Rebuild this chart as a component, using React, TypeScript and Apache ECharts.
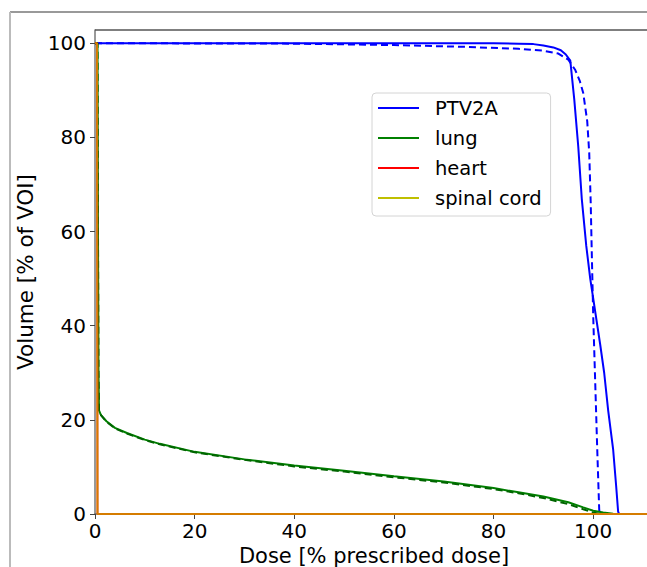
import React, { useEffect, useRef } from "react";
import * as echarts from "echarts";

// ---- data ----
const ptvSolidDose = [0, 80, 85, 88, 90, 92, 93.5, 94.5, 95.4, 96.2, 97, 97.7, 98.6, 99.4, 100.4, 101.4, 102.2, 103, 104, 104.6, 105, 105.2, 112];
const ptvSolidVol = [100, 100, 99.9, 99.8, 99.5, 99.1, 98.5, 97.6, 96.3, 88, 78, 67, 57, 50, 43, 36, 30, 22, 13.7, 6, 0.5, 0, 0];

const ptvDashDose = [0, 40, 60, 75, 85, 90, 93, 95, 96.4, 97.3, 98, 98.8, 99.2, 99.5, 99.7, 100, 100.4, 100.8, 101.2, 101.3, 112];
const ptvDashVol = [100, 99.9, 99.6, 99.2, 98.8, 98.4, 97.8, 96.5, 94.3, 92, 89.4, 83.4, 76.7, 66, 56, 42, 28, 14, 1, 0, 0];

const lungSolidDose = [0, 0.5, 0.6, 0.7, 0.8, 1.2, 2.3, 4, 6.4, 10, 13, 20, 30, 40, 50, 60, 70, 80, 85, 90, 95, 98, 100, 102, 104, 105, 112];
const lungSolidVol = [100, 100, 60, 30, 22, 21, 19.7, 18.3, 17.2, 15.8, 14.9, 13.2, 11.6, 10.3, 9.2, 8.0, 6.9, 5.5, 4.6, 3.7, 2.5, 1.4, 0.7, 0.3, 0.05, 0, 0];

const lungDashDose = [0, 0.5, 0.6, 0.7, 0.8, 1.2, 2.3, 4, 6.4, 10, 13, 20, 30, 40, 50, 60, 70, 80, 85, 90, 95, 98, 100, 101.5, 112];
const lungDashVol = [100, 100, 60, 30, 22, 21, 19.6, 18.2, 17.1, 15.7, 14.8, 13.1, 11.5, 10.1, 9.0, 7.8, 6.7, 5.3, 4.4, 3.4, 2.1, 1.0, 0.3, 0, 0];

const heartDose = [0, 0.4, 0.5, 112];
const heartVol = [100, 100, 0, 0];

const cordDose = [0, 0.4, 0.5, 112];
const cordVol = [100, 100, 0, 0];

const legendNames = ["PTV2A", "lung", "heart", "spinal cord"];
const xTicks = [0, 20, 40, 60, 80, 100];
const yTicks = [0, 20, 40, 60, 80, 100];

const zip = (xs: number[], ys: number[]) => xs.map((x, i) => [x, ys[i]]);

const FONT = "DejaVu Sans";

export default function App() {
  const ref = useRef<HTMLDivElement>(null);
  useEffect(() => {
    if (!ref.current) return;
    const chart = echarts.init(ref.current, null, { renderer: "svg" });
    const lineSeries = (name: string, color: string, data: number[][], dashed: boolean, opacity = 1, z = 2) => ({
      type: "line",
      name,
      color,
      data,
      showSymbol: false,
      symbol: "none",
      z,
      lineStyle: { color, width: 2, type: dashed ? [7, 4] : "solid", opacity },
      emphasis: { disabled: true },
    });
    chart.setOption({
      animation: false,
      backgroundColor: "#ffffff",
      textStyle: { fontFamily: FONT },
      grid: {
        left: 95,
        top: 30,
        width: 558,
        height: 484,
        containLabel: false,
        outerBoundsMode: "none",
        show: false,
      },
      legend: {
        orient: "vertical",
        left: 372,
        top: 93,
        itemWidth: 41,
        itemHeight: 2,
        itemGap: 10,
        icon: "rect",
        padding: [5, 9, 8, 6],
        borderColor: "#d4d4d4",
        borderWidth: 1,
        borderRadius: 4,
        backgroundColor: "#ffffff",
        textStyle: { fontSize: 19.5, fontFamily: FONT, color: "#000", padding: [0, 0, 0, 11] },
        data: legendNames,
        selectedMode: false,
      },
      xAxis: {
        type: "value",
        min: 0,
        max: 112,
        interval: 20,
        name: "Dose [% prescribed dose]",
        nameLocation: "middle",
        nameGap: 26,
        nameTextStyle: { fontSize: 21, fontFamily: FONT, color: "#000" },
        axisLine: { show: true, lineStyle: { color: "#666", width: 1.5 } },
        axisTick: { show: true, inside: false, length: 5, lineStyle: { color: "#444" } },
        axisLabel: {
          fontSize: 20,
          fontFamily: FONT,
          color: "#000",
          margin: 7,
          showMaxLabel: false,
          formatter: (v: number) => (xTicks.includes(v) ? String(v) : ""),
        },
        splitLine: { show: false },
      },
      yAxis: {
        type: "value",
        min: 0,
        max: 102.8,
        interval: 20,
        name: "Volume [% of VOI]",
        nameLocation: "middle",
        nameGap: 53,
        nameTextStyle: { fontSize: 21.5, fontFamily: FONT, color: "#000" },
        axisLine: { show: true, lineStyle: { color: "#777", width: 1.5 } },
        axisTick: { show: true, inside: false, length: 5, lineStyle: { color: "#444" } },
        axisLabel: {
          fontSize: 20,
          fontFamily: FONT,
          color: "#000",
          margin: 9,
          showMaxLabel: false,
          formatter: (v: number) => (yTicks.includes(v) ? String(v) : ""),
        },
        splitLine: { show: false },
      },
      series: [
        lineSeries("PTV2A", "#0000ff", zip(ptvSolidDose, ptvSolidVol), false, 1, 2),
        lineSeries("PTV2A (dashed)", "#0000ff", zip(ptvDashDose, ptvDashVol), true, 1, 2),
        lineSeries("lung", "#008000", zip(lungSolidDose, lungSolidVol), false, 1, 3),
        lineSeries("lung (dashed)", "#006400", zip(lungDashDose, lungDashVol), true, 1, 3),
        lineSeries("heart", "#ff0000", zip(heartDose, heartVol), false, 1, 4),
        lineSeries("spinal cord", "#bfbf00", zip(cordDose, cordVol), false, 0.65, 5),
      ],
      graphic: [
        { type: "line", shape: { x1: 95, y1: 30, x2: 647, y2: 30 }, style: { stroke: "#555", lineWidth: 1.5 }, z: 10 },
        { type: "line", shape: { x1: 10, y1: 12, x2: 647, y2: 12 }, style: { stroke: "#777", lineWidth: 1.5 }, z: 10 },
        { type: "line", shape: { x1: 10, y1: 12, x2: 10, y2: 567 }, style: { stroke: "#bbb", lineWidth: 2 }, z: 10 },
      ],
    });
    return () => chart.dispose();
  }, []);
  return (
    <div
      ref={ref}
      style={{ position: "absolute", left: 0, top: 0, width: 647, height: 567, background: "#fff" }}
    />
  );
}
